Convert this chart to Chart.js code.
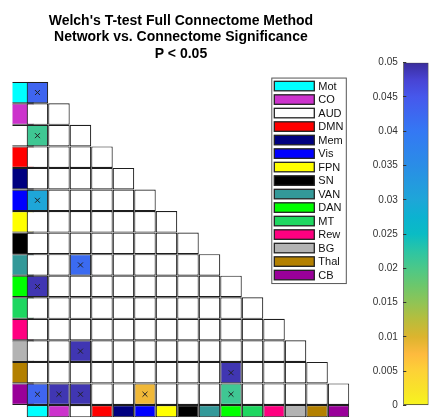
<!DOCTYPE html>
<html>
<head>
<meta charset="utf-8">
<script src="https://cdn.jsdelivr.net/npm/chart.js@4.4.1/dist/chart.umd.min.js"></script>
<style>
  html, body { margin: 0; padding: 0; background: #fff; }
  #wrap { position: relative; width: 442px; height: 420px; }
  #main { position: absolute; left: 0; top: 0; }
  #cbar { position: absolute; left: 360px; top: 0; }
</style>
</head>
<body>
<div id="wrap">
  <canvas id="main" width="442" height="420"></canvas>
  <canvas id="cbar" width="82" height="420"></canvas>
</div>
<script>
// networks, in matrix order (top to bottom, left to right)
const networks = ['Mot','CO','AUD','DMN','Mem','Vis','FPN','SN','VAN','DAN','MT','Rew','BG','Thal','CB'];
const networkColors = ['#00ffff','#cc33cc','#ffffff','#ff0000','#000080','#0000ff','#ffff00','#000000',
                       '#339999','#00ff00','#1ed760','#ff0080','#b3b3b3','#b38000','#990099'];

// significant pairs: row network, column network, p value
const sigRow = ['Mot','AUD','Vis','VAN','DAN','BG','Thal','CB','CB','CB','CB','CB'];
const sigCol = ['Mot','Mot','Mot','AUD','Mot','AUD','DAN','Mot','CO','AUD','Vis','DAN'];
const sigP   = [0.043,0.021,0.030,0.042,0.049,0.049,0.049,0.043,0.049,0.049,0.0085,0.021];

// colour bar
const pMax = 0.05;
const pTicks = [0,0.005,0.01,0.015,0.02,0.025,0.03,0.035,0.04,0.045,0.05];
const cmapPos = [0,0.0025,0.005,0.0075,0.01,0.0125,0.015,0.0175,0.02,0.0225,0.025,0.0275,0.03,0.035,0.04,0.045,0.0475,0.05];
const cmapColors = ['#f7f51e','#f9e22a','#fdd236','#feba3e','#dcb42e','#b8bd3c','#90c455','#6cc76c','#4cc888',
                    '#2cc5a4','#0abcc4','#0cb2d0','#1ea6d8','#2a8de6','#3478f4','#4658ec','#4844d4','#3a2d9c'];

Chart.defaults.font.family = "'Liberation Sans', Arial, sans-serif";

const N = networks.length;
const leftStrip = 0.66;    // width of the colour column, in cells
const bottomStrip = 0.57;  // height of the colour row, in cells

function hexRgb(h) {
  return [parseInt(h.slice(1,3),16), parseInt(h.slice(3,5),16), parseInt(h.slice(5,7),16)];
}
function pColor(p) {
  let i = 0;
  while (i < cmapPos.length - 2 && p > cmapPos[i+1]) i++;
  const t = Math.min(1, Math.max(0, (p - cmapPos[i]) / (cmapPos[i+1] - cmapPos[i])));
  const a = hexRgb(cmapColors[i]), b = hexRgb(cmapColors[i+1]);
  const c = a.map((v, k) => Math.round(v + (b[k] - v) * t));
  return 'rgb(' + c.join(',') + ')';
}

const cells = [], cellColors = [];
for (let r = 0; r < N; r++) {
  for (let c = 0; c <= r; c++) {
    cells.push({x: c + 0.5, y: [r, r + 1]});
    let k = -1;
    sigRow.forEach((n, i) => { if (n === networks[r] && sigCol[i] === networks[c]) k = i; });
    cellColors.push(k >= 0 ? pColor(sigP[k]) : '#ffffff');
  }
}
const markers = sigRow.map((n, i) => ({x: networks.indexOf(sigCol[i]) + 0.5, y: networks.indexOf(n) + 0.5}));

const cellStyle = {
  borderColor: '#1e1e1e',
  borderWidth: 1.15,
  borderSkipped: false,
  barPercentage: 1,
  categoryPercentage: 1,
  grouped: false,
  inflateAmount: 0,
  order: 1
};

const netLegend = {
  id: 'netLegend',
  afterDraw(chart) {
    const ctx = chart.ctx;
    const area = chart.chartArea;
    const w = 74.5, rowH = 13.5, h = (N - 1) * rowH + 16.5;
    const left = area.right - 3 - w, top = area.top - 3.7;
    ctx.save();
    ctx.fillStyle = '#fff';
    ctx.fillRect(left, top, w, h);
    ctx.strokeStyle = '#555';
    ctx.lineWidth = 1;
    ctx.strokeRect(left, top, w, h);
    ctx.font = '11px "Liberation Sans", Arial, sans-serif';
    ctx.textBaseline = 'middle';
    networks.forEach((n, i) => {
      const yc = top + 8 + i * rowH;
      ctx.fillStyle = networkColors[i];
      ctx.fillRect(left + 2.5, yc - 4.75, 40, 9.5);
      ctx.strokeStyle = '#222';
      ctx.lineWidth = 1.3;
      ctx.strokeRect(left + 2.5, yc - 4.75, 40, 9.5);
      ctx.fillStyle = '#111';
      ctx.fillText(n, left + 46.5, yc + 0.5);
    });
    ctx.restore();
  }
};

new Chart(document.getElementById('main'), {
  type: 'bar',
  data: {
    datasets: [
      {
        type: 'scatter',
        data: markers,
        pointStyle: 'crossRot',
        pointRadius: 3.5,
        borderColor: '#222',
        borderWidth: 1,
        order: 0
      },
      Object.assign({data: cells, backgroundColor: cellColors}, cellStyle),
      Object.assign({data: networks.map((n, i) => ({x: i + 0.5, y: [N, N + bottomStrip]})),
                     backgroundColor: networkColors}, cellStyle),
      Object.assign({xAxisID: 'xs', data: networks.map((n, i) => ({x: 0.5, y: [i, i + 1]})),
                     backgroundColor: networkColors}, cellStyle)
    ]
  },
  options: {
    responsive: false,
    animation: false,
    events: [],
    layout: {autoPadding: false, padding: {left: 12.5, right: 92.7, top: 0, bottom: 2.7}},
    plugins: {
      legend: {display: false},
      tooltip: {enabled: false},
      title: {
        display: true,
        text: ["Welch's T-test Full Connectome Method", 'Network vs. Connectome Significance', 'P < 0.05'],
        color: '#000',
        font: {size: 14, weight: 'bold', lineHeight: 1.18},
        padding: {top: 12.5, bottom: 19.7}
      }
    },
    scales: {
      x: {type: 'linear', min: -leftStrip, max: N, offset: false, display: false,
          ticks: {stepSize: 1, includeBounds: false}},
      xs: {type: 'linear', axis: 'x', position: 'bottom', min: 0, max: (N + leftStrip) / leftStrip,
           offset: false, display: false, ticks: {stepSize: 1, includeBounds: false}},
      y: {type: 'linear', reverse: true, min: 0, max: N + bottomStrip, offset: false, display: false}
    }
  },
  plugins: [netLegend]
});

new Chart(document.getElementById('cbar'), {
  type: 'bar',
  data: {
    labels: [''],
    datasets: [{
      data: [[0, pMax]],
      backgroundColor(context) {
        const chart = context.chart;
        const y = chart.scales.y;
        if (!y || !chart.chartArea) return '#ffffff';
        const g = chart.ctx.createLinearGradient(0, y.getPixelForValue(0), 0, y.getPixelForValue(pMax));
        cmapPos.forEach((v, i) => g.addColorStop(v / pMax, cmapColors[i]));
        return g;
      },
      borderColor: '#3c3c3c',
      borderWidth: 1,
      borderSkipped: false,
      barPercentage: 1,
      categoryPercentage: 1
    }]
  },
  options: {
    responsive: false,
    animation: false,
    events: [],
    layout: {autoPadding: false, padding: {left: 7.3, right: 13.5, top: 62.7, bottom: 13.3}},
    plugins: {legend: {display: false}, tooltip: {enabled: false}},
    scales: {
      x: {display: false},
      y: {
        min: 0,
        max: pMax,
        afterBuildTicks(s) { s.ticks = pTicks.map(v => ({value: v})); },
        afterFit(s) { s.width = 36; },
        border: {display: false},
        grid: {drawOnChartArea: false, drawTicks: true, tickLength: -3, color: '#333', z: 1},
        ticks: {padding: 8.5, color: '#333', font: {size: 10}, callback: v => String(v)}
      }
    }
  }
});
</script>
</body>
</html>
